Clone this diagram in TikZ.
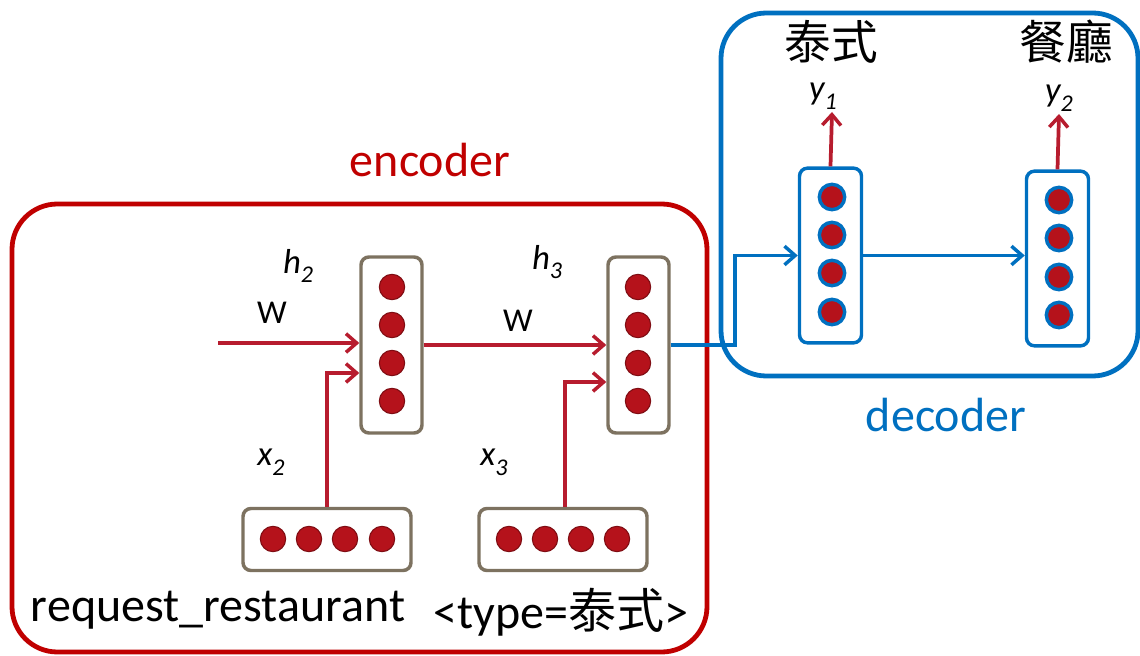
\documentclass[tikz,border=0pt]{standalone}
\usepackage{fontspec}
\setmainfont{Carlito}
\newfontfamily\cjk{Noto Sans CJK TC}
\usetikzlibrary{arrows.meta,calc}
\definecolor{encred}{HTML}{C00000}
\definecolor{decblue}{HTML}{0070C0}
\definecolor{arrred}{HTML}{B71C2E}
\definecolor{dotred}{HTML}{B5121B}
\definecolor{boxbrown}{HTML}{7D7260}
\newcommand{\sbs}[1]{\raisebox{-0.28em}{\fontsize{18}{20}\selectfont #1}}
\tikzset{
  px/.style={x=0.75pt,y=-0.75pt},
  bigbox/.style={line width=3.6pt,rounded corners=34pt},
  vbox/.style={draw=boxbrown,line width=2.6pt,rounded corners=6pt,minimum width=45.75pt,minimum height=132pt,inner sep=0pt,fill=white},
  hbox/.style={draw=boxbrown,line width=2.6pt,rounded corners=6pt,minimum width=126pt,minimum height=46.5pt,inner sep=0pt,fill=white},
  dbox/.style={draw=decblue,line width=2.6pt,rounded corners=6pt,minimum width=46.5pt,minimum height=131pt,inner sep=0pt,fill=white},
  rdot/.style={circle,fill=dotred,draw=dotred!70!black,line width=0.8pt,minimum size=19pt,inner sep=0pt},
  bdot/.style={circle,fill=dotred,draw=decblue,line width=2.6pt,minimum size=19pt,inner sep=0pt},
  ra/.style={draw=arrred,line width=2.8pt,-{Straight Barb[length=8pt,width=14pt,line width=2.6pt]}},
  ba/.style={draw=decblue,line width=2.8pt,-{Straight Barb[length=8pt,width=14pt,line width=2.6pt]}},
  lbl/.style={font=\fontsize{26}{28}\selectfont\itshape,inner sep=0pt},
  wl/.style={font=\fontsize{25}{27}\selectfont,inner sep=0pt},
  big/.style={font=\fontsize{36}{39}\selectfont,inner sep=0pt},
  cj/.style={font=\fontsize{35}{38}\selectfont\cjk,inner sep=0pt},
}
\begin{document}
\begin{tikzpicture}[px]
\useasboundingbox (0,0) rectangle (1140,656);
\fill[white] (0,0) rectangle (1140,656);
% big boxes
\draw[bigbox,draw=encred] (12,204) rectangle (707,652);
\draw[bigbox,draw=decblue] (721,13) rectangle (1138,376);
\node[big,text=encred] (enc) at (430,160) {encoder};
\node[big,text=decblue] (dec) at (946,415) {decoder};
% encoder nodes
\node[vbox] (h2) at (391.5,345) {};
\node[vbox] (h3) at (638.5,345) {};
\node[hbox] (x2) at (327,539.5) {};
\node[hbox] (x3) at (563,539.5) {};
\foreach \i/\y in {1/287,2/325,3/363,4/401}{
  \node[rdot] (h2d\i) at (392,\y) {};
  \node[rdot] (h3d\i) at (638,\y) {};
}
\foreach \i/\x in {1/273,2/309,3/345,4/382}{
  \node[rdot] (x2d\i) at (\x,539) {};
}
\foreach \i/\x in {1/509,2/545,3/581,4/617}{
  \node[rdot] (x3d\i) at (\x,539) {};
}
% decoder nodes
\node[dbox] (d1) at (830.5,255.5) {};
\node[dbox] (d2) at (1057.5,258.5) {};
\foreach \i/\y in {1/197,2/235,3/273,4/312}{
  \node[bdot] (d1d\i) at (832,\y) {};
}
\foreach \i/\y in {1/200,2/238,3/277,4/315}{
  \node[bdot] (d2d\i) at (1059,\y) {};
}
% connectors
\coordinate (win) at (218,343);
\draw[ra] (win) -- (win -| h2.west);
\draw[ra] (x2.north) |- ($(h2.west)+(0,28)$);
\draw[ra] (h2.east) -- (h3.west);
\draw[ra] (x3.north -| 565,0) |- ($(h3.west)+(0,37)$);
\coordinate (bend) at (735,345);
\draw[ba] (h3.east) -- (bend) |- (d1.west);
\draw[ba] (d1.east) -- (d1.east -| d2.west);
\coordinate (y1t) at (832,112);
\coordinate (y2t) at (1059,114);
\draw[ra] (d1.north) -- (y1t);
\draw[ra] (d2.north) -- (y2t);
% labels
\node[lbl] (lh2) at (298,266) {h\sbs{2}};
\node[lbl] (lh3) at (547,262) {h\sbs{3}};
\node[wl] (w1) at (272,313) {W};
\node[wl] (w2) at (518,321) {W};
\node[lbl] (lx2) at (271,462) {x\sbs{2}};
\node[lbl] (lx3) at (494,462) {x\sbs{3}};
\node[lbl] (ly1) at (823,96) {y\sbs{1}};
\node[lbl] (ly2) at (1059,98) {y\sbs{2}};
\node[cj] (t1) at (831,42) {泰式};
\node[cj] (t2) at (1066,42) {餐廳};
\node[big] (req) at (218,610) {request\_restaurant};
\node[big] (typ) at (561,612) {<type={\cjk 泰式}>};
\end{tikzpicture}
\end{document}
